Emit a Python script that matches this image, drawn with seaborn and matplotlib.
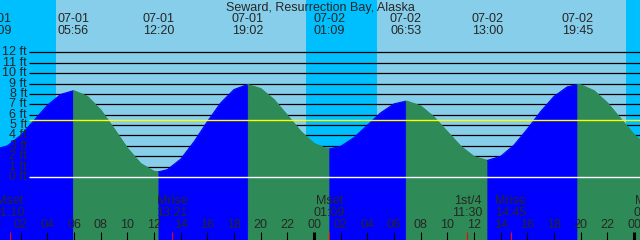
import numpy as np
import pandas as pd
import matplotlib.pyplot as plt
import seaborn as sns

sns.set_style("white")
plt.rcParams['font.family'] = ['Liberation Sans', 'DejaVu Sans']

# hours counted from 07-01 00:00 (local)
title = "Seward, Resurrection Bay, Alaska"

# tide height (ft)
hours = list(range(0, 50))
levels = [2.7, 3.0, 4.0, 5.44, 6.9, 7.95, 8.3, 7.77, 6.46, 4.65,
          2.78, 1.3, 0.55, 0.71, 1.72, 3.39, 5.33, 7.13, 8.42, 8.9,
          8.52, 7.45, 5.94, 4.4, 3.23, 2.71, 2.95, 3.79, 4.98, 6.18,
          7.04, 7.29, 6.84, 5.77, 4.36, 2.97, 1.97, 1.6, 1.99, 3.07,
          4.62, 6.3, 7.76, 8.68, 8.88, 8.31, 7.14, 5.61, 4.09, 2.94]

# high / low tide events
event_dates = ["07-01", "07-01", "07-01", "07-01", "07-02", "07-02", "07-02", "07-02"]
event_times = ["00:09", "05:56", "12:20", "19:02", "01:09", "06:53", "13:00", "19:45"]
event_levels = [2.7, 8.3, 0.5, 8.9, 2.7, 7.3, 1.6, 8.9]
event_kind = ["Low", "High", "Low", "High", "Low", "High", "Low", "High"]

# sun (night = between sunset and sunrise)
sunrise = [4.63, 28.73]
sunset = [23.4, 47.4]

# moon events (bottom row)
moon_names = ["Mset", "Mrise", "Mset", "1st/4", "Mrise", "Mset"]
moon_dates = ["07-01", "07-01", "07-02", "07-02", "07-02", "07-03"]
moon_times = ["01:10", "13:21", "01:09", "11:30", "14:45", "01:08"]

mean_level = 5.45
grid_levels = list(range(0, 13))
tick_hours = list(range(0, 50, 2))

SKY, NIGHT = "#87CEEB", "#00BFFF"
FLOOD, EBB = "#0000FF", "#2E8B57"


def to_hours(d, t):
    day = int(d.split("-")[1]) - 1
    hh, mm = t.split(":")
    return day * 24 + int(hh) + int(mm) / 60


event_hours = [to_hours(d, t) for d, t in zip(event_dates, event_times)]
moon_hours = [to_hours(d, t) for d, t in zip(moon_dates, moon_times)]

curve = pd.concat([
    pd.DataFrame({"hour": hours, "level": levels}),
    pd.DataFrame({"hour": event_hours, "level": event_levels}),
]).drop_duplicates("hour", keep="last").sort_values("hour").reset_index(drop=True)

fig = plt.figure(figsize=(6.4, 2.4), dpi=100)
ax = fig.add_axes([0, 0, 1, 1])
ax.set_facecolor(SKY)
x0, x1 = 0.45, 48.45
y0, y1 = -6.06, 17.04
ax.set_xlim(x0, x1)
ax.set_ylim(y0, y1)
ax.axis("off")
ax.add_patch(plt.Rectangle((x0, y0), x1 - x0, y1 - y0, color=SKY, zorder=0))

# night shading
ax.axvspan(-5, sunrise[0], color=NIGHT, lw=0, zorder=1)
for s, r in zip(sunset, sunrise[1:] + [60]):
    ax.axvspan(s, r, color=NIGHT, lw=0, zorder=1)

# depth lines
line_start = 2.625
ax.hlines(grid_levels, line_start, x1, color="black", lw=0.9, zorder=2)

# water, blue while rising, green while falling
bounds = [curve["hour"].min()] + event_hours + [curve["hour"].max()]
kinds = event_kind + ["Low" if event_kind[-1] == "High" else "High"]
for b0, b1, k in zip(bounds[:-1], bounds[1:], kinds):
    seg = curve[(curve["hour"] >= b0) & (curve["hour"] <= b1)]
    c = FLOOD if k == "High" else EBB
    ax.fill_between(seg["hour"], seg["level"], y0 - 1, color=c, lw=0.6,
                    edgecolor=c, zorder=3)
    sns.lineplot(x=seg["hour"], y=seg["level"], color=c, lw=0.8, ax=ax, zorder=4)

ax.hlines([mean_level], line_start, x1, color="#FFFF00", lw=1.0, zorder=5)
ax.hlines([0], line_start, x1, color="white", lw=1.0, zorder=5)
ax.set_xlim(x0, x1)
ax.set_ylim(y0, y1)
ax.axis("off")

fs = 9
# depth labels
for lv in grid_levels:
    ax.text(27 / 640, lv, f"{lv} ft", transform=ax.get_yaxis_transform(),
            ha="right", va="center", fontsize=fs, zorder=6)

# title and tide event labels
fig.text(0.5, 1 - 8.5 / 240, title, ha="center", va="center", fontsize=fs)
xt = ax.get_xaxis_transform()
for h, d, t in zip(event_hours, event_dates, event_times):
    ax.text(h, 1 - 19.5 / 240, d, transform=xt, ha="center", va="center", fontsize=fs, zorder=6)
    ax.text(h, 1 - 31.5 / 240, t, transform=xt, ha="center", va="center", fontsize=fs, zorder=6)

# moon labels and ticks
for h, n, t in zip(moon_hours, moon_names, moon_times):
    ax.text(h, 1 - 201.5 / 240, n, transform=xt, ha="center", va="center", fontsize=fs, zorder=6)
    ax.text(h, 1 - 213.5 / 240, t, transform=xt, ha="center", va="center", fontsize=fs, zorder=6)
ax.vlines(moon_hours, 0, 8 / 240, transform=xt, color="red", lw=0.8, zorder=6)

# hour ticks
for h in tick_hours:
    midnight = h % 24 == 0
    ax.vlines([h], 0, 8 / 240, transform=xt, color="black",
              lw=2.2 if midnight else 0.8, zorder=6)
    ax.text(h, 1 - 224.5 / 240, f"{h % 24:02d}", transform=xt,
            ha="center", va="center", fontsize=fs, zorder=6)

fig.savefig("out.png", dpi=100)
